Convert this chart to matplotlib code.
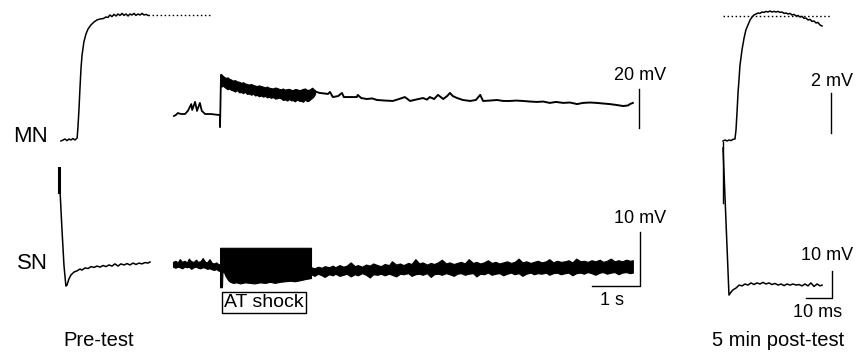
import numpy as np
import matplotlib.pyplot as plt

plt.rcParams['font.family'] = ['Liberation Sans', 'DejaVu Sans']

# ---- pre-test MN EPSP (ms, mV from baseline)
pre_mn_t = [0, 0.8, 1.5, 2.3, 3.1, 3.8, 4.6, 5.4, 6.2, 6.5, 6.9, 7.3, 7.7, 8.1, 8.8,
            9.6, 10.4, 11.5, 12.7, 13.8, 15.0, 16.2, 17.3, 18.1, 18.8, 19.6, 20.4,
            21.2, 21.9, 22.7, 23.5, 24.2, 25.0, 25.8, 26.5, 27.3, 28.1, 28.8, 29.6,
            30.4, 31.2, 31.9, 32.7, 33.5]
pre_mn_v = [0, 0.05, 0.1, 0.02, 0.1, 0.05, 0.12, 0.05, 0.15, 0.65, 1.55, 2.65, 3.65,
            4.3, 4.95, 5.35, 5.6, 5.8, 5.95, 6.05, 6.1, 6.12, 6.2, 6.18, 6.3, 6.22,
            6.33, 6.25, 6.35, 6.28, 6.38, 6.28, 6.35, 6.25, 6.35, 6.3, 6.38, 6.28,
            6.35, 6.3, 6.38, 6.3, 6.33, 6.28]
pre_peak = 6.28
pre_dot_end = 57.3

# ---- pre-test SN spike (ms, mV)
pre_sn_t = [0, 0.38, 1.15, 1.9, 2.5, 2.7, 3.1, 3.8, 4.6, 5.8, 6.9, 8.1, 8.8, 10.0,
            11.2, 12.3, 13.5, 14.6, 15.8, 16.9, 18.1, 19.2, 20.4, 21.5, 22.7, 23.8,
            25.0, 26.2, 27.3, 28.5, 29.6, 30.8, 31.9, 33.1, 34.2, 35.0]
pre_sn_v = [34.8, 26.7, 11.9, -1.1, -7.4, -8.9, -8.5, -6.3, -4.8, -3.7, -3.3, -2.6,
            -3.0, -2.2, -2.4, -1.7, -2.0, -1.5, -1.9, -1.3, -1.7, -1.1, -1.5, -0.7,
            -1.5, -0.7, -1.1, -0.6, -1.1, -0.4, -0.9, -0.4, -0.7, -0.2, -0.4, 0.0]
pre_sn_artifact = [34.8, 25.9]

# ---- AT shock, MN (s, mV)
mid_mn_pre_t = [0.02, 0.06, 0.10, 0.17, 0.25, 0.31, 0.38, 0.40, 0.46, 0.50, 0.56,
                0.60, 0.67, 0.79, 0.96, 0.98, 0.98, 1.0]
mid_mn_pre_v = [-0.5, 0, 1.0, 0.5, 0.5, 2.1, 5.6, 2.6, 6.7, 2.1, 6.2, 2.1, 0.5, 0.5,
                0, 0, -6.2, 20.5]
mid_mn_band_t = [1.00, 1.04, 1.10, 1.14, 1.17, 1.21, 1.25, 1.29, 1.33, 1.38, 1.42,
                 1.46, 1.50, 1.54, 1.58, 1.63, 1.67, 1.71, 1.75, 1.79, 1.83, 1.88,
                 1.92, 1.96, 2.00, 2.04, 2.08, 2.13, 2.17, 2.21, 2.25, 2.29, 2.33,
                 2.38, 2.42, 2.46, 2.50, 2.54, 2.58, 2.63, 2.67, 2.71, 2.75, 2.79,
                 2.83, 2.87, 2.90, 2.93, 2.96]
mid_mn_band_hi = [21.0, 20.0, 19.0, 19.3, 18.6, 18.2, 17.6, 17.9, 17.3, 17.0, 16.5,
                  16.8, 16.2, 15.9, 15.6, 15.9, 15.4, 15.1, 14.8, 15.2, 14.9, 14.5,
                  14.2, 14.6, 14.0, 13.8, 13.6, 14.1, 13.8, 13.4, 13.2, 13.6, 13.0,
                  13.3, 13.4, 12.9, 12.8, 13.3, 13.2, 12.7, 13.0, 13.4, 13.6, 12.9,
                  12.9, 13.5, 14.0, 13.2, 12.8]
mid_mn_band_lo = [14.5, 15.0, 13.8, 13.2, 13.6, 12.9, 12.6, 12.0, 12.8, 11.6, 11.8,
                  11.2, 11.9, 10.8, 11.0, 10.4, 10.9, 10.0, 10.3, 9.6, 10.0, 9.4,
                  9.8, 9.0, 9.4, 8.8, 9.2, 8.4, 8.6, 8.9, 8.5, 7.7, 8.0, 7.4, 8.2,
                  7.5, 7.6, 7.0, 7.9, 7.3, 7.2, 6.8, 8.0, 7.1, 7.4, 8.3, 8.8, 9.6,
                  10.8]
mid_mn_post_t = [2.92, 3.06, 3.23, 3.27, 3.33, 3.44, 3.52, 3.56, 3.69, 3.83, 3.85,
                 3.92, 4.04, 4.15, 4.25, 4.42, 4.58, 4.71, 4.83, 4.94, 5.06, 5.21,
                 5.29, 5.35, 5.44, 5.52, 5.63, 5.71, 5.77, 5.83, 5.92, 6.04, 6.19,
                 6.31, 6.40, 6.46, 6.60, 6.75, 6.88, 7.02, 7.15, 7.29, 7.44, 7.58,
                 7.71, 7.85, 7.98, 8.13, 8.27, 8.42, 8.54, 8.69, 8.83, 8.96, 9.10,
                 9.25, 9.38, 9.48, 9.52, 9.58]
mid_mn_post_v = [12.3, 11.3, 10.8, 11.8, 9.2, 9.7, 11.3, 9.2, 9.2, 9.2, 10.3, 8.7,
                 8.2, 8.5, 7.7, 7.4, 7.2, 8.2, 9.2, 7.2, 7.9, 8.7, 7.9, 9.2, 8.2,
                 10.3, 8.2, 9.7, 11.3, 9.7, 8.7, 7.7, 7.2, 7.7, 10.3, 7.2, 7.4, 7.7,
                 7.2, 7.2, 7.4, 7.2, 6.9, 6.7, 6.9, 6.2, 6.7, 6.2, 6.4, 5.6, 6.2,
                 6.4, 6.2, 5.9, 5.6, 5.1, 4.6, 4.9, 5.6, 6.2]

# ---- AT shock, SN (s, mV)
mid_sn_pre_t = [0.0, 0.05, 0.1, 0.14, 0.19, 0.24, 0.29, 0.33, 0.38, 0.43, 0.48,
                0.52, 0.57, 0.62, 0.67, 0.71, 0.76, 0.81, 0.86, 0.9, 0.94, 0.98]
mid_sn_pre_hi = [0.4, 0.6, 0.3, 0.9, 0.4, 0.6, 0.3, 1.0, 0.5, 0.4, 0.8, 0.4, 0.5,
                 1.1, 0.4, 0.3, 0.9, 0.2, 0.1, 0.3, 0.0, -0.1]
mid_sn_pre_lo = [-0.5, -0.7, -0.5, -0.6, -0.8, -0.5, -0.6, -0.5, -0.9, -0.6, -0.5,
                 -0.7, -0.8, -0.6, -0.7, -0.9, -0.8, -1.0, -1.1, -0.9, -1.2, -1.3]
shock_t = [0.98, 1.02, 1.03, 1.06, 1.10, 1.15, 1.19, 1.25, 1.32, 1.40, 1.50, 1.60,
           1.70, 1.81, 1.92, 2.02, 2.12, 2.23, 2.33, 2.44, 2.54, 2.65, 2.75, 2.875]
shock_lo = [-4.3, -4.3, -1.5, -1.5, -2.3, -3.0, -3.3, -3.5, -3.4, -3.6, -3.4, -3.5,
            -3.6, -3.4, -3.5, -3.3, -3.5, -3.3, -3.2, -3.1, -3.2, -3.0, -2.8, -2.6]
shock_top = 3.0
mid_sn_post_t = [2.875, 2.95, 3.02, 3.1, 3.16, 3.25, 3.33, 3.38, 3.47, 3.55,
                 3.62, 3.7, 3.79, 3.85, 3.94, 4.02, 4.1, 4.17, 4.26, 4.33,
                 4.41, 4.5, 4.56, 4.65, 4.73, 4.8, 4.9, 4.97, 5.05, 5.13,
                 5.2, 5.29, 5.37, 5.44, 5.52, 5.6, 5.69, 5.76, 5.85, 5.92,
                 6.0, 6.08, 6.16, 6.25, 6.32, 6.4, 6.48, 6.56, 6.64, 6.72,
                 6.8, 6.88, 6.96, 7.04, 7.12, 7.2, 7.28, 7.36, 7.45, 7.52,
                 7.6, 7.68, 7.77, 7.84, 7.92, 8.0, 8.08, 8.17, 8.24, 8.32,
                 8.4, 8.49, 8.56, 8.64, 8.72, 8.8, 8.89, 8.96, 9.04, 9.12,
                 9.2, 9.28, 9.36, 9.44, 9.52, 9.58]
mid_sn_post_hi = [-0.6, -0.8, -0.5, -0.7, -0.4, -0.6, -0.3, -0.6, -0.2, -0.5,
                  -0.3, 0.3, -0.4, -0.2, -0.5, -0.1, -0.3, 0.1, -0.2, -0.4,
                  0.0, -0.2, 0.5, -0.1, 0.1, -0.2, 0.2, 0.0, 0.9, 0.1,
                  0.3, -0.1, 0.2, 0.0, 0.3, 0.8, 0.1, 0.3, 0.0, 0.2,
                  0.4, 0.1, 0.9, 0.2, 0.4, 0.1, 0.3, 0.7, 0.2, 0.4,
                  0.1, 0.3, 0.5, 0.2, 0.4, 1.0, 0.3, 0.5, 0.2, 0.4,
                  0.6, 0.3, 0.5, 0.9, 0.3, 0.6, 0.4, 0.5, 0.7, 0.3,
                  1.0, 0.5, 0.6, 0.4, 0.7, 0.5, 0.8, 0.4, 0.6, 1.0,
                  0.5, 0.7, 0.5, 0.8, 0.6, 0.7]
mid_sn_post_lo = [-1.9, -2.2, -1.8, -2.1, -2.4, -1.9, -2.1, -1.8, -2.2, -2.0,
                  -1.8, -2.3, -1.9, -2.1, -1.7, -2.0, -2.5, -1.9, -2.0, -1.8,
                  -2.1, -1.8, -2.0, -2.3, -1.8, -1.9, -1.7, -2.2, -1.9, -1.8,
                  -2.0, -1.7, -2.4, -1.9, -1.8, -2.0, -1.7, -1.9, -2.2, -1.8,
                  -1.7, -2.0, -1.8, -1.7, -2.3, -1.8, -1.9, -1.6, -2.0, -1.8,
                  -1.7, -2.1, -1.8, -1.6, -1.9, -1.7, -2.2, -1.8, -1.6, -1.9,
                  -1.7, -1.8, -1.6, -2.0, -1.7, -1.6, -1.9, -1.7, -1.6, -2.1,
                  -1.7, -1.6, -1.8, -1.5, -1.7, -2.0, -1.6, -1.5, -1.8, -1.6,
                  -1.5, -1.9, -1.6, -1.5, -1.7, -1.6]

# ---- 5 min post-test MN EPSP (ms, mV)
post_mn_t = [0, 0.8, 1.5, 2.3, 3.1, 3.8, 4.6, 5.0, 5.4, 5.8, 6.2, 6.5, 7.3, 8.1, 8.8,
             9.6, 10.4, 11.2, 11.9, 12.7, 13.5, 14.2, 15.0, 15.8, 16.5, 17.3, 18.1,
             18.8, 19.6, 20.4, 21.2, 21.9, 22.7, 23.5, 24.2, 25.0, 25.8, 26.5, 27.3,
             28.1, 28.8, 29.6, 30.4, 31.2, 31.9, 32.7, 33.5, 34.2, 35.0, 35.8, 36.5,
             37.3, 38.1]
post_mn_v = [0, 0.05, 0, 0.05, 0.02, 0.08, 0.1, 0.55, 1.45, 2.45, 3.15, 3.75, 4.55,
             5.15, 5.55, 5.8, 6.05, 6.2, 6.3, 6.35, 6.4, 6.38, 6.45, 6.43, 6.48, 6.45,
             6.5, 6.45, 6.48, 6.45, 6.48, 6.43, 6.45, 6.38, 6.4, 6.35, 6.38, 6.3,
             6.33, 6.25, 6.28, 6.2, 6.23, 6.13, 6.15, 6.05, 6.08, 5.98, 6.0, 5.9,
             5.93, 5.8, 5.75]
post_peak = 6.27
post_dot_end = 41.2

# ---- 5 min post-test SN spike (ms, mV)
post_sn_t = [0, 2.3, 3.1, 3.8, 5.0, 6.2, 7.3, 8.5, 9.6, 10.8, 11.9, 13.1, 14.2,
             15.4, 16.5, 17.7, 18.8, 20.0, 21.2, 22.3, 23.5, 24.6, 25.8, 26.9, 28.1,
             29.2, 30.4, 31.5, 32.7, 33.8, 35.0, 36.2, 37.3, 38.1]
post_sn_v = [50.4, -4.1, -3.0, -2.2, -1.5, -0.4, -0.7, 0, -0.4, 0.4, -0.2, 0.4, 0,
             0.6, 0, 0.4, -0.2, 0.2, -0.4, 0, -0.6, 0, -0.4, 0, -0.4, -0.2, -0.7, 0,
             -0.7, 0.4, -0.9, 0, -0.7, -0.4]
post_sn_artifact = [52.6, 30.0]

W, H = 865, 352
fig = plt.figure(figsize=(W / 100, H / 100), dpi=100)

LW = 1.1
K = 'black'


def trace_axes(x0, y0, px_x, px_y):
    # full-figure axes whose data origin sits at pixel (x0, y0)
    ax = fig.add_axes([0, 0, 1, 1])
    ax.set_xlim(-x0 / px_x, (W - x0) / px_x)
    ax.set_ylim((y0 - H) / px_y, y0 / px_y)
    ax.set_axis_off()
    return ax


def scale_text(ax, x, y, s, **kw):
    ax.text(x, y, s, fontsize=13, ha='center', va='center', **kw)


# pre-test
ax = trace_axes(61, 141, 2.6, 20)
ax.plot(pre_mn_t, pre_mn_v, color=K, lw=LW)
ax.plot([pre_mn_t[-1], pre_dot_end], [pre_peak, pre_peak], color=K, lw=1.0,
        dashes=(1.1, 1.8))
ax.text(-5, 0.2, 'MN', fontsize=16, ha='right', va='center')

ax = trace_axes(59, 262, 2.6, 2.7)
ax.plot(pre_sn_t, pre_sn_v, color=K, lw=LW)
ax.plot([0, 0], pre_sn_artifact, color=K, lw=2.2)
ax.text(-4.2, -0.7, 'SN', fontsize=16, ha='right', va='center')

fig.text(99 / W, 1 - 341 / H, 'Pre-test', fontsize=14.5, ha='center', va='center')

# AT shock, MN
ax = trace_axes(173, 115, 48, 1.95)
ax.plot(mid_mn_pre_t, mid_mn_pre_v, color=K, lw=1.3)
ax.fill_between(mid_mn_band_t, mid_mn_band_lo, mid_mn_band_hi, color=K, lw=0.8)
ax.plot(mid_mn_post_t, mid_mn_post_v, color=K, lw=1.4)
ax.plot([9.71, 9.71], [-6.7, 13.3], color=K, lw=1.0)
scale_text(ax, 9.73, 20.5, '20 mV')

# AT shock, SN
ax = trace_axes(173, 264, 48, 5.4)
ax.fill_between(mid_sn_pre_t, mid_sn_pre_lo, mid_sn_pre_hi, color=K, lw=0.8)
ax.fill_between(shock_t, shock_lo, shock_top, color=K, lw=0.8)
ax.fill_between(mid_sn_post_t, mid_sn_post_lo, mid_sn_post_hi, color=K, lw=0.8)
ax.plot([8.73, 9.73, 9.73], [-4.07, -4.07, 5.93], color=K, lw=1.0)
scale_text(ax, 9.73, 8.5, '10 mV')
scale_text(ax, 9.15, -6.7, '1 s')
ax.text(1.9, -7.2, 'AT shock', fontsize=14, ha='center', va='center',
        bbox=dict(boxstyle='square,pad=0.1', fc='white', ec=K, lw=1.0))

# 5 min post-test
ax = trace_axes(723, 141, 2.6, 20)
ax.plot(post_mn_t, post_mn_v, color=K, lw=LW)
ax.plot([0, post_dot_end], [post_peak, post_peak], color=K, lw=1.0,
        dashes=(1.1, 1.8))
ax.plot([41.5, 41.5], [0.4, 2.4], color=K, lw=1.0)
scale_text(ax, 41.9, 2.95, '2 mV')

ax = trace_axes(723, 284, 2.6, 2.7)
ax.plot(post_sn_t, post_sn_v, color=K, lw=LW)
ax.plot([0, 0], post_sn_artifact, color=K, lw=1.0)
ax.plot([31.9, 41.9, 41.9], [-5.2, -5.2, 4.8], color=K, lw=1.0)
scale_text(ax, 40.0, 10.4, '10 mV')
scale_text(ax, 36.5, -10.7, '10 ms')

fig.text(778 / W, 1 - 341 / H, '5 min post-test', fontsize=14.5, ha='center',
         va='center')

fig.savefig('out.png', dpi=100)
